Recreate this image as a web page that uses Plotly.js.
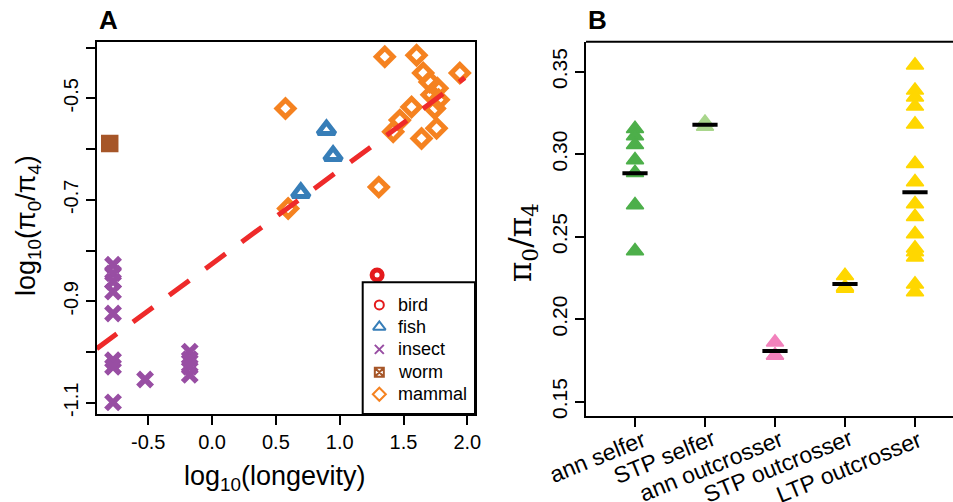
<!DOCTYPE html>
<html><head><meta charset="utf-8">
<script src="https://cdn.plot.ly/plotly-3.0.1.min.js"></script>
<style>html,body{margin:0;padding:0;background:#fff}#chart{width:953px;height:502px}</style>
</head><body><div id="chart"></div>
<script>
// ---------- Panel A data ----------
const birdX = [1.293];
const birdY = [-0.848];
const fishX = [0.896, 0.948, 0.695];
const fishY = [-0.562, -0.613, -0.686];
const insectX = [-0.776, -0.776, -0.776, -0.776, -0.776, -0.776, -0.776, -0.776, -0.525, -0.175, -0.175, -0.175, -0.175];
const insectY = [-0.828, -0.845, -0.861, -0.881, -0.924, -1.016, -1.029, -1.099, -1.054, -0.999, -1.014, -1.029, -1.045];
const wormX = [-0.802];
const wormY = [-0.589];
const mammalX = [1.353, 1.602, 1.654, 1.941, 1.705, 1.765, 1.720, 1.775, 1.745, 1.563, 1.471, 1.419, 1.759, 1.641, 0.575, 1.306, 0.596];
const mammalY = [-0.418, -0.415, -0.450, -0.450, -0.468, -0.480, -0.493, -0.503, -0.520, -0.517, -0.543, -0.566, -0.559, -0.579, -0.520, -0.675, -0.717];
const fitIntercept = -0.826;
const fitSlope = 0.185;
const fitXrange = [-0.904, 1.98];
const legendLabels = ["bird", "fish", "insect", "worm", "mammal"];
const aXticks = [-0.5, 0, 0.5, 1, 1.5, 2];
const aXtickText = ["-0.5", "0.0", "0.5", "1.0", "1.5", "2.0"];
const aYticks = [-1.1, -0.9, -0.7, -0.5];
const aYtickText = ["-1.1", "-0.9", "-0.7", "-0.5"];
const aYminorTicks = [-1.0, -0.8, -0.6, -0.4];

// ---------- Panel B data ----------
const groups = ["ann selfer", "STP selfer", "ann outcrosser", "STP outcrosser", "LTP outcrosser"];
const annSelfer = [0.3155, 0.3110, 0.3058, 0.2965, 0.2888, 0.2692, 0.2413];
const stpSelfer = [0.3192, 0.3168];
const annOutcrosser = [0.186, 0.178, 0.178];
const stpOutcrosser = [0.2264, 0.2195, 0.2186];
const ltpOutcrosser = [0.3539, 0.3387, 0.3345, 0.3290, 0.3181, 0.2942, 0.2832, 0.2698, 0.2621, 0.2516, 0.2430, 0.2407, 0.2375, 0.2212, 0.2165];
const groupMeans = [0.2884, 0.3179, 0.1807, 0.2213, 0.2769];
const bYticks = [0.15, 0.20, 0.25, 0.30, 0.35];
const bYtickText = ["0.15", "0.20", "0.25", "0.30", "0.35"];

// ---------- styling ----------
const FONT = "Liberation Sans, Arial, sans-serif";
const cBird = "#E41A1C", cFish = "#377EB8", cInsect = "#984EA3", cWorm = "#A65628", cMammal = "#F58220";
const groupColors = ["#4DAF4A", "#A9D68C", "#F282BC", "#FFD700", "#FFD700"];
const W = 953, H = 502;
const px = v => v / W, py = v => 1 - v / H;

const traces = [];
traces.push({x: birdX, y: birdY, type: "scatter", mode: "markers", xaxis: "x", yaxis: "y",
  marker: {symbol: "circle-open", size: 10, color: cBird, line: {width: 5, color: cBird}}});
traces.push({x: fishX, y: fishY, type: "scatter", mode: "markers", xaxis: "x", yaxis: "y",
  marker: {symbol: "triangle-up-open", size: 15, color: cFish, line: {width: 5, color: cFish}}});
traces.push({x: insectX, y: insectY, type: "scatter", mode: "markers", xaxis: "x", yaxis: "y",
  marker: {symbol: "x-thin-open", size: 14, color: cInsect, line: {width: 5.5, color: cInsect}}});
traces.push({x: wormX, y: wormY, type: "scatter", mode: "markers", xaxis: "x", yaxis: "y",
  marker: {symbol: "square", size: 16, color: cWorm, line: {width: 1.5, color: cWorm}}});
traces.push({x: mammalX, y: mammalY, type: "scatter", mode: "markers", xaxis: "x", yaxis: "y",
  marker: {symbol: "diamond-open", size: 13, color: cMammal, line: {width: 5, color: cMammal}}});
traces.push({x: fitXrange, y: fitXrange.map(v => fitIntercept + fitSlope * v), type: "scatter", mode: "lines",
  xaxis: "x", yaxis: "y", line: {color: "#EE2A2A", width: 5, dash: "25px,20px"}});

// legend markers (inset axis)
const legY = [0.828, 0.661, 0.491, 0.317, 0.150];
const legSym = ["circle-open", "triangle-up-open", "x-thin-open", "square-x-open", "diamond-open"];
const legCol = [cBird, cFish, cInsect, cWorm, cMammal];
const legSize = [9, 11, 9, 9, 10];
legendLabels.forEach((lab, i) => {
  traces.push({x: [0.148], y: [legY[i]], type: "scatter", mode: "markers", xaxis: "x3", yaxis: "y3",
    marker: {symbol: legSym[i], size: legSize[i], color: legCol[i], line: {width: 2, color: legCol[i]}}});
});

// Panel B
const bData = [annSelfer, stpSelfer, annOutcrosser, stpOutcrosser, ltpOutcrosser];
bData.forEach((vals, i) => {
  traces.push({x: vals.map(() => groups[i]), y: vals, type: "scatter", mode: "markers", xaxis: "x2", yaxis: "y2",
    marker: {symbol: "triangle-up", size: 15, color: groupColors[i], line: {width: 1.5, color: groupColors[i]}}});
});
traces.push({x: groups, y: groupMeans, type: "scatter", mode: "markers", xaxis: "x2", yaxis: "y2",
  marker: {symbol: "line-ew-open", size: 18, color: "#000", line: {width: 4, color: "#000"}}});

const axBase = {showgrid: false, zeroline: false, ticks: "outside", ticklen: 9, tickwidth: 2, tickcolor: "#000",
  linecolor: "#000", linewidth: 2, automargin: false, tickfont: {family: FONT, size: 20, color: "#000"}};

const aX0 = 96.7, aX1 = 475, aYt = 41.7, aYb = 414;
const bX0 = 586, bYt = 41.7, bYb = 415.7;
const legX0 = 362.7, legYt = 282.3;

const layout = {
  width: W, height: H, margin: {l: 0, r: 0, t: 0, b: 0}, showlegend: false,
  paper_bgcolor: "#fff", plot_bgcolor: "rgba(0,0,0,0)",
  xaxis: Object.assign({}, axBase, {domain: [px(aX0), px(aX1)], range: [-0.904, 2.06], tickmode: "array", tickvals: aXticks, ticktext: aXtickText,
    showline: true, mirror: true, anchor: "y"}),
  yaxis: Object.assign({}, axBase, {domain: [py(aYb), py(aYt)], range: [-1.122, -0.3885], tickmode: "array", tickvals: aYticks, ticktext: aYtickText,
    minor: {tickmode: "array", tickvals: aYminorTicks, ticks: "outside", ticklen: 9, tickwidth: 2, tickcolor: "#000", showgrid: false},
    tickangle: -90, showline: true, mirror: true, anchor: "x"}),
  xaxis2: Object.assign({}, axBase, {domain: [px(bX0), 1], type: "category", categoryarray: groups, categoryorder: "array",
    range: [-0.7, 4.543], showticklabels: false, showline: true, mirror: false, anchor: "y2"}),
  yaxis2: Object.assign({}, axBase, {domain: [py(bYb), py(bYt)], range: [0.1415, 0.3682], tickmode: "array", tickvals: bYticks, ticktext: bYtickText,
    tickangle: -90, tickfont: {family: FONT, size: 21, color: "#000"}, showline: true, mirror: false, anchor: "x2"}),
  xaxis3: {domain: [px(legX0), px(aX1)], range: [0, 1], visible: false, anchor: "y3", fixedrange: true},
  yaxis3: {domain: [py(aYb), py(legYt)], range: [0, 1], visible: false, anchor: "x3", fixedrange: true},
  shapes: [
    {type: "rect", xref: "x3 domain", yref: "y3 domain", x0: 0, x1: 1, y0: 0, y1: 1, line: {color: "#000", width: 2}, fillcolor: "rgba(255,255,255,0)", layer: "above"},
    {type: "line", xref: "x2 domain", yref: "y2 domain", x0: 0, x1: 1, y0: 1, y1: 1, line: {color: "#000", width: 2}}
  ],
  annotations: [
    {text: "<b>A</b>", xref: "paper", yref: "paper", x: px(97), y: py(20), xanchor: "left", yanchor: "middle", showarrow: false,
      font: {family: FONT, size: 26, color: "#000"}},
    {text: "<b>B</b>", xref: "paper", yref: "paper", x: px(586), y: py(20), xanchor: "left", yanchor: "middle", showarrow: false,
      font: {family: FONT, size: 26, color: "#000"}},
    {text: "log<sub>10</sub>(longevity)", xref: "paper", yref: "paper", x: px(275), y: py(478), xanchor: "center", yanchor: "middle", showarrow: false,
      font: {family: FONT, size: 27, color: "#000"}},
    {text: "log<sub>10</sub>(π<sub>0</sub>/π<sub>4</sub>)", xref: "paper", yref: "paper", x: px(28), y: py(226), xanchor: "center", yanchor: "middle", showarrow: false,
      textangle: -90, font: {family: FONT, size: 27, color: "#000"}},
    {text: "π<sub>0</sub>/π<sub>4</sub>", xref: "paper", yref: "paper", x: px(522), y: py(243), xanchor: "center", yanchor: "middle", showarrow: false,
      textangle: -90, font: {family: "DejaVu Serif, serif", size: 31, color: "#000"}}
  ]
};
legendLabels.forEach((lab, i) => {
  layout.annotations.push({text: lab, xref: "x3", yref: "y3", x: 0.297, y: legY[i], xanchor: "left", yanchor: "middle",
    showarrow: false, font: {family: FONT, size: 18, color: "#000"}});
});
// Panel B category labels, slanted, placed at each category tick
const bLabelShift = [-38, -41, -64, -67, -66];
const bLabelY = [457, 457, 466, 466, 467];
groups.forEach((g, i) => {
  layout.annotations.push({text: g, xref: "x2", yref: "paper", x: g, xshift: bLabelShift[i], y: py(bLabelY[i]),
    xanchor: "center", yanchor: "middle", showarrow: false, textangle: -22,
    font: {family: FONT, size: 23, color: "#000"}});
});

Plotly.newPlot("chart", traces, layout, {staticPlot: true, displayModeBar: false});
</script></body></html>
